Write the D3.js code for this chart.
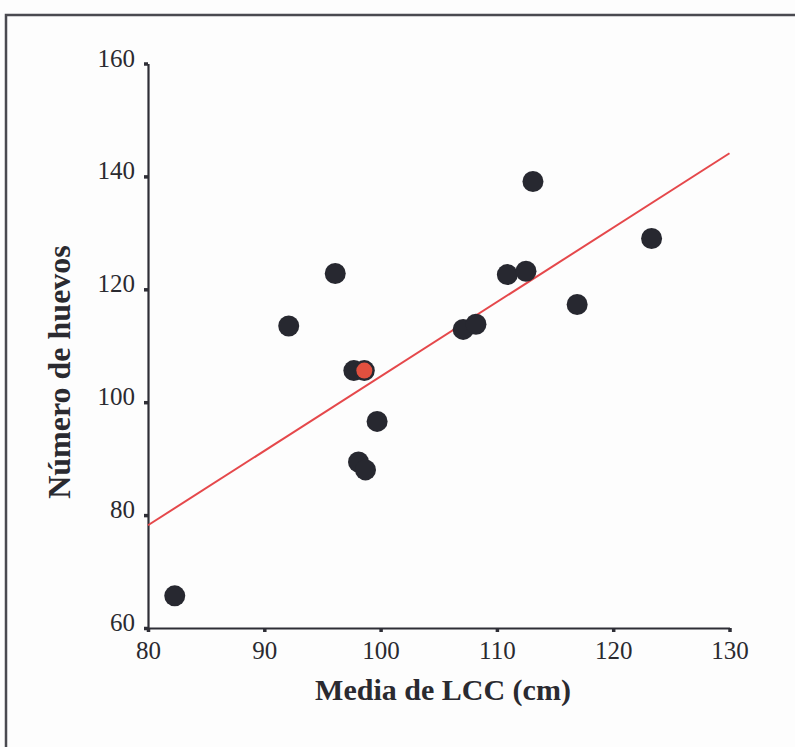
<!DOCTYPE html>
<html>
<head>
<meta charset="utf-8">
<script src="https://cdn.jsdelivr.net/npm/d3@7"></script>
<style>
  html, body { margin: 0; padding: 0; background: #fdfdfd; }
  svg { display: block; }
</style>
</head>
<body>
<svg id="chart" width="795" height="747"></svg>
<script>
// Mean carapace length (cm) per nesting female vs. number of eggs
const lccMeans = [82.3, 92.1, 96.1, 97.7, 98.6, 98.1, 98.7, 99.7, 107.1, 108.2, 110.9, 112.5, 113.1, 116.9, 123.3];
const eggCounts = [65.7, 113.5, 122.8, 105.6, 105.6, 89.4, 88.0, 96.6, 112.9, 113.8, 122.6, 123.2, 139.1, 117.3, 129.0];

// highlighted observation (drawn in red on top)
const highlightLcc = [98.6];
const highlightEggs = [105.6];

// fitted regression line end points
const trendX = [80, 130];
const trendY = [78.2, 144.1];

const xTicks = [80, 90, 100, 110, 120, 130];
const yTicks = [60, 80, 100, 120, 140, 160];

const svg = d3.select("#chart");

// outer frame
svg.append("rect")
  .attr("x", 6).attr("y", 15)
  .attr("width", 800).attr("height", 760)
  .attr("fill", "none")
  .attr("stroke", "#4a4a50")
  .attr("stroke-width", 2.5);

const x = d3.scaleLinear().domain([80, 130]).range([148, 729.5]);
const y = d3.scaleLinear().domain([60, 160]).range([628, 63.5]);

const serif = "'Liberation Serif', 'Times New Roman', serif";
const axisColor = "#2e2e36";

// x axis
const gx = svg.append("g").attr("transform", `translate(0,${y(60)})`)
  .call(d3.axisBottom(x).tickValues(xTicks).tickSize(4).tickPadding(8).tickSizeOuter(0));
// y axis
const gy = svg.append("g").attr("transform", `translate(${x(80)},0)`)
  .call(d3.axisLeft(y).tickValues(yTicks).tickSize(4).tickPadding(9).tickSizeOuter(0));

[gx, gy].forEach(g => {
  g.select(".domain").attr("stroke", axisColor).attr("stroke-width", 2.2);
  g.selectAll(".tick line").attr("stroke", axisColor).attr("stroke-width", 3.5);
  g.selectAll(".tick text")
    .attr("fill", "#2a2a30")
    .style("font-family", serif)
    .style("font-size", "25px");
});
gy.selectAll(".tick text").attr("dy", "0.1em");
gx.selectAll(".tick text").attr("dy", "0.75em");

// regression line
svg.append("line")
  .attr("x1", x(trendX[0])).attr("y1", y(trendY[0]))
  .attr("x2", x(trendX[1])).attr("y2", y(trendY[1]))
  .attr("stroke", "#e5484b")
  .attr("stroke-width", 2);

// data points
const pts = lccMeans.map((v, i) => ({ lcc: v, eggs: eggCounts[i] }));
svg.append("g").selectAll("circle")
  .data(pts)
  .join("circle")
  .attr("cx", d => x(d.lcc))
  .attr("cy", d => y(d.eggs))
  .attr("r", 10.5)
  .attr("fill", "#272830");

svg.append("g").selectAll("circle")
  .data(highlightLcc.map((v, i) => ({ lcc: v, eggs: highlightEggs[i] })))
  .join("circle")
  .attr("cx", d => x(d.lcc))
  .attr("cy", d => y(d.eggs))
  .attr("r", 8)
  .attr("fill", "#e2503f");

// axis titles
svg.append("text")
  .attr("x", 443).attr("y", 700)
  .attr("text-anchor", "middle")
  .style("font-family", serif)
  .style("font-weight", "bold")
  .style("font-size", "30px")
  .attr("fill", "#2a2a30")
  .text("Media de LCC (cm)");

svg.append("text")
  .attr("transform", "translate(70,372) rotate(-90)")
  .attr("text-anchor", "middle")
  .style("font-family", serif)
  .style("font-weight", "bold")
  .style("font-size", "32px")
  .attr("fill", "#2a2a30")
  .text("Número de huevos");
</script>
</body>
</html>
